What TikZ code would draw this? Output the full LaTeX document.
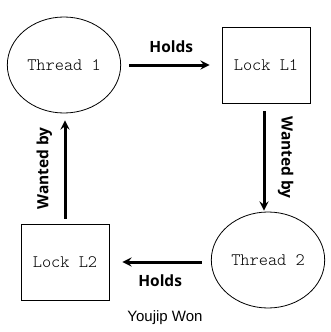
\documentclass[tikz,border=0pt]{standalone}
\usepackage{fontspec}
\setmainfont{Liberation Sans}
\newfontfamily\labelfont{Open Sans}
\newfontfamily\lightmono{lmmonolt10-regular.otf}
\usetikzlibrary{shapes.geometric}

\tikzset{
    thread/.style={draw, ellipse, line width=0.8pt, minimum width=110pt, minimum height=96pt, font=\lightmono\fontsize{17.5}{20}\selectfont},
    lockbox/.style={draw, rectangle, line width=0.8pt, minimum width=88pt, minimum height=76pt, font=\lightmono\fontsize{17.5}{20}\selectfont},
    rel/.style={-stealth, line width=3pt},
    rellabel/.style={font=\labelfont\bfseries\fontsize{15.5}{18}\selectfont}
}

\begin{document}
\begin{tikzpicture}[x=1pt, y=-1pt]
    \useasboundingbox (0,0) rectangle (330,332);

    % 1. Hilos y cerrojos
    \node[thread] (t1) at (64,65) {Thread 1};
    \node[lockbox] (l1) at (266,65) {Lock L1};
    \node[thread] (t2) at (268,260) {Thread 2};
    \node[lockbox] (l2) at (65,262) {Lock L2};

    % 2. Relaciones
    \draw[rel, shorten <=8pt, shorten >=12pt] (t1) -- (l1)
        node[midway, above=8pt, rellabel] {Holds};
    \draw[rel, shorten <=8pt, shorten >=1pt] ([xshift=-2pt]l1.south) -- ([xshift=-2pt]l1.south |- t2.north)
        node[midway, right=9pt, rotate=-90, anchor=south, rellabel] {Wanted by};
    \draw[rel, shorten <=9pt, shorten >=13pt] (t2.west |- l2) -- (l2)
        node[midway, below=8pt, rellabel] {Holds};
    \draw[rel, shorten <=5pt, shorten >=7pt] (l2.north) -- (l2.north |- t1.south)
        node[midway, rotate=90, anchor=south, yshift=8pt, rellabel] {Wanted by};

    % 3. Autor
    \node[font=\fontsize{15}{18}\selectfont] (autor) at (165,318) {Youjip Won};
\end{tikzpicture}
\end{document}
